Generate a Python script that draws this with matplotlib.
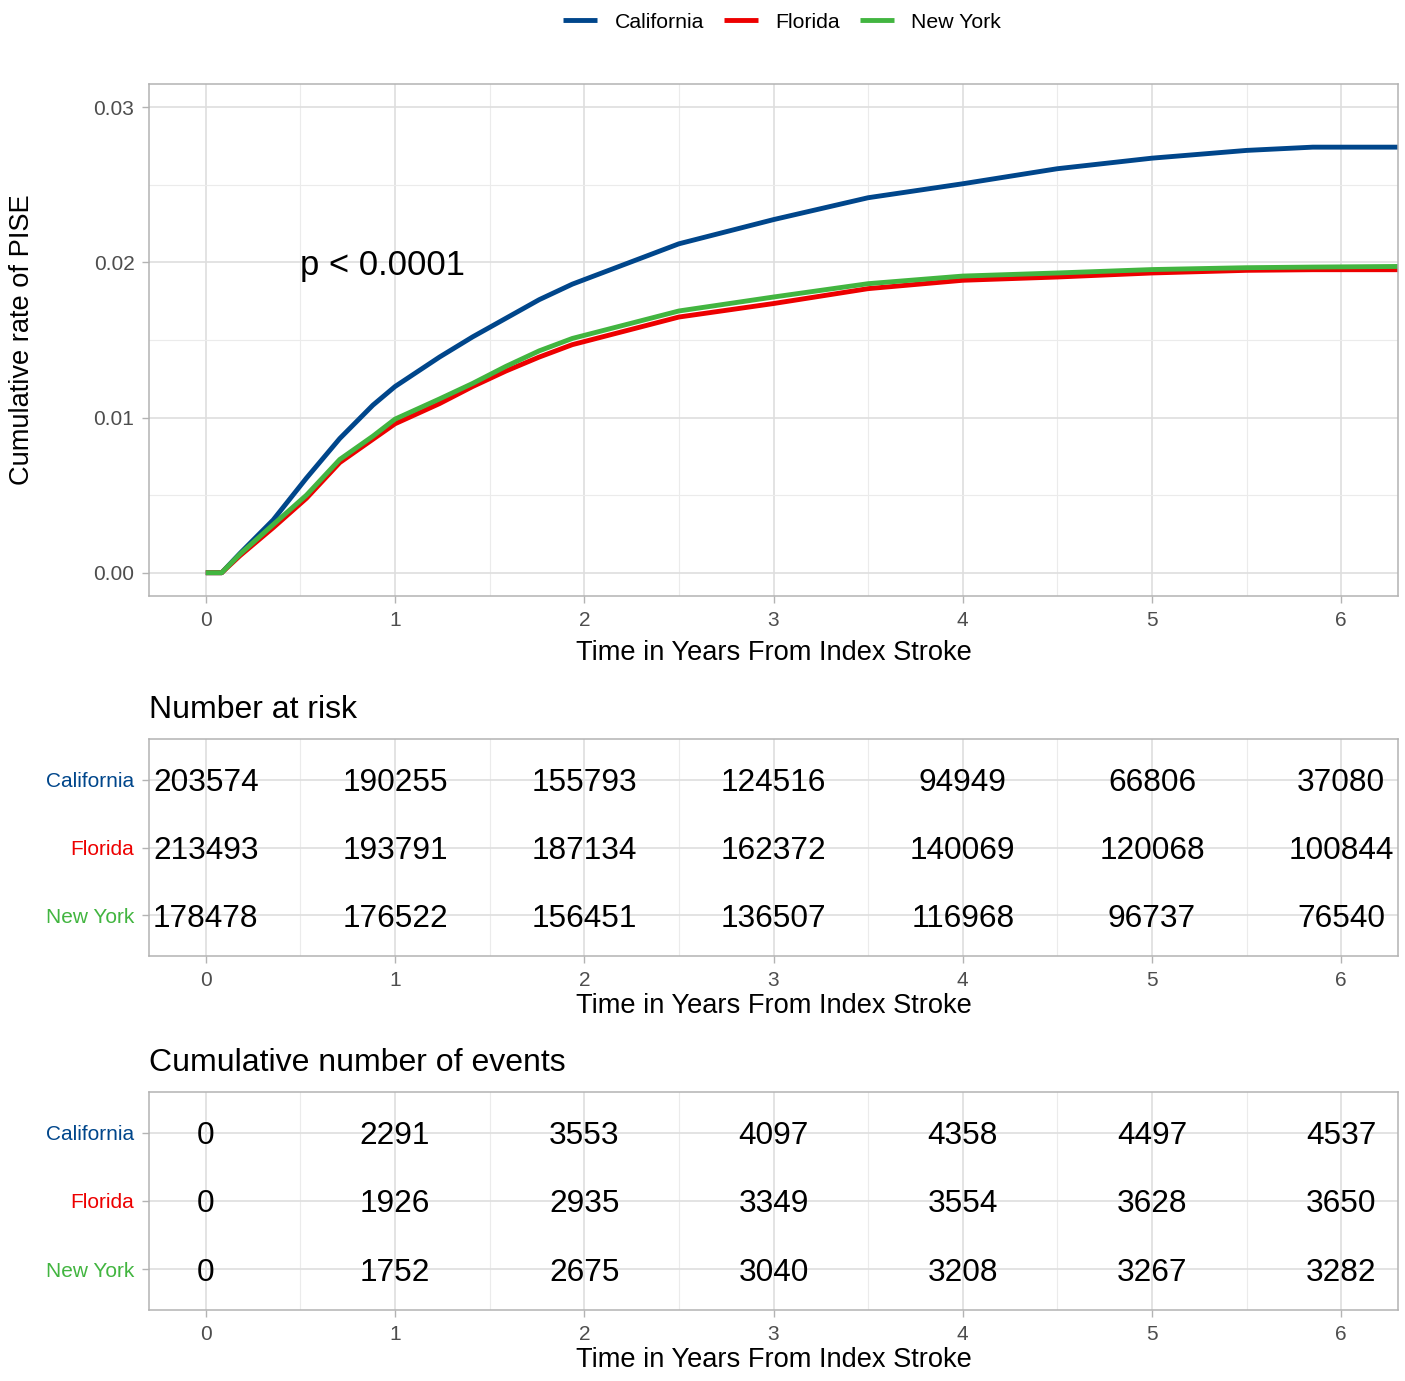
import matplotlib as mpl
mpl.use('agg')
import matplotlib.pyplot as plt
from matplotlib.ticker import MultipleLocator
import numpy as np

plt.rcParams['font.family'] = ['Liberation Sans', 'DejaVu Sans']

# cumulative incidence curves
t_curve = [0, 0.084, 0.181, 0.356, 0.532, 0.708, 0.883, 1.0, 1.235, 1.41, 1.586,
           1.762, 1.937, 2.5, 3.0, 3.5, 4.0, 4.5, 5.0, 5.5, 5.85, 6.3]
ca_rate = [0, 0, 0.00125, 0.0034, 0.0061, 0.00865, 0.0108, 0.0120, 0.0139, 0.0152, 0.0164,
           0.0176, 0.0186, 0.0212, 0.02276, 0.02417, 0.02507, 0.02604, 0.02672, 0.02722, 0.02743, 0.02743]
fl_rate = [0, 0, 0.0011, 0.0029, 0.0048, 0.0071, 0.0086, 0.0096, 0.0109, 0.0120, 0.0130,
           0.0139, 0.0147, 0.01648, 0.01735, 0.01831, 0.01885, 0.01906, 0.01932, 0.01949, 0.01953, 0.01953]
ny_rate = [0, 0, 0.0012, 0.0031, 0.0050, 0.0073, 0.0088, 0.0099, 0.0112, 0.0122, 0.0133,
           0.0143, 0.0151, 0.01687, 0.01777, 0.01863, 0.01912, 0.01932, 0.01954, 0.01966, 0.0197, 0.01974]

groups = ["California", "Florida", "New York"]
colors = ["#00468B", "#ED0000", "#42B540"]
years = [0, 1, 2, 3, 4, 5, 6]

at_risk = {
    "California": [203574, 190255, 155793, 124516, 94949, 66806, 37080],
    "Florida":    [213493, 193791, 187134, 162372, 140069, 120068, 100844],
    "New York":   [178478, 176522, 156451, 136507, 116968, 96737, 76540],
}
cum_events = {
    "California": [0, 2291, 3553, 4097, 4358, 4497, 4537],
    "Florida":    [0, 1926, 2935, 3349, 3554, 3628, 3650],
    "New York":   [0, 1752, 2675, 3040, 3208, 3267, 3282],
}

W, H = 1405, 1381
fig = plt.figure(figsize=(W/100, H/100), dpi=100)

def px_axes(left, top, right, bottom):
    return fig.add_axes([left/W, 1-bottom/H, (right-left)/W, (bottom-top)/H])

def style(ax):
    for s in ax.spines.values():
        s.set_color("#B3B3B3")
        s.set_linewidth(1.1)
    ax.tick_params(which='major', length=5, width=1.0, color="#B3B3B3",
                   labelcolor="#4D4D4D", labelsize=15, pad=5.5)
    ax.tick_params(which='minor', length=0)
    ax.grid(True, which='major', color="#DEDEDE", linewidth=1.2)
    ax.grid(True, which='minor', color="#EBEBEB", linewidth=0.8)
    ax.set_axisbelow(True)

# main curves
ax = px_axes(149, 84, 1398, 596)
style(ax)
ax.set_xlim(-0.3, 6.3)
ax.set_ylim(-0.0015, 0.0315)
ax.set_xticks(years)
ax.set_yticks([0, 0.01, 0.02, 0.03])
ax.set_yticklabels(["0.00", "0.01", "0.02", "0.03"])
ax.xaxis.set_minor_locator(MultipleLocator(0.5))
ax.yaxis.set_minor_locator(MultipleLocator(0.005))
for g, c, r in zip(groups, colors, [ca_rate, fl_rate, ny_rate]):
    ax.plot(t_curve, r, color=c, linewidth=3.5, label=g, solid_capstyle='butt')
ax.text(0.5, 0.01917, "p < 0.0001", fontsize=24.9, ha='left', va='baseline')
ax.set_xlabel("Time in Years From Index Stroke", fontsize=19.6)
ax.xaxis.label.set_va('baseline')
ax.xaxis.set_label_coords(0.5, (596-660)/(596-84))
ax.set_ylabel("Cumulative rate of PISE", fontsize=19.6)
ax.yaxis.set_label_coords((22-149)/(1398-149), 0.5)
ax.yaxis.label.set_va('center')

fig.legend(*ax.get_legend_handles_labels(), loc='center', bbox_to_anchor=(782/W, 1-22/H),
           ncol=3, frameon=False, fontsize=15.3, handlelength=1.6, handletextpad=0.8,
           columnspacing=0.95)

def table(top, bottom, data, title, label_base):
    t = px_axes(149, top, 1398, bottom)
    style(t)
    t.set_xlim(-0.3, 6.3)
    t.set_ylim(3.6, 0.4)
    t.set_xticks(years)
    t.xaxis.set_minor_locator(MultipleLocator(0.5))
    t.set_yticks([1, 2, 3])
    t.set_yticklabels(groups)
    for lab, c in zip(t.get_yticklabels(), colors):
        lab.set_color(c)
    for i, g in enumerate(groups):
        for x, v in zip(years, data[g]):
            t.text(x, i+1, str(v), fontsize=22.8, ha='center', va='center_baseline')
    t.set_xlabel("Time in Years From Index Stroke", fontsize=19.6)
    t.xaxis.label.set_va('baseline')
    t.xaxis.set_label_coords(0.5, (bottom-label_base)/(bottom-top))
    fig.text(149/W, 1-(top-21)/H, title, fontsize=23, ha='left', va='baseline')
    return t

table(739, 956, at_risk, "Number at risk", 1013)
table(1092, 1310, cum_events, "Cumulative number of events", 1367)

fig.savefig("out.png", dpi=100)
